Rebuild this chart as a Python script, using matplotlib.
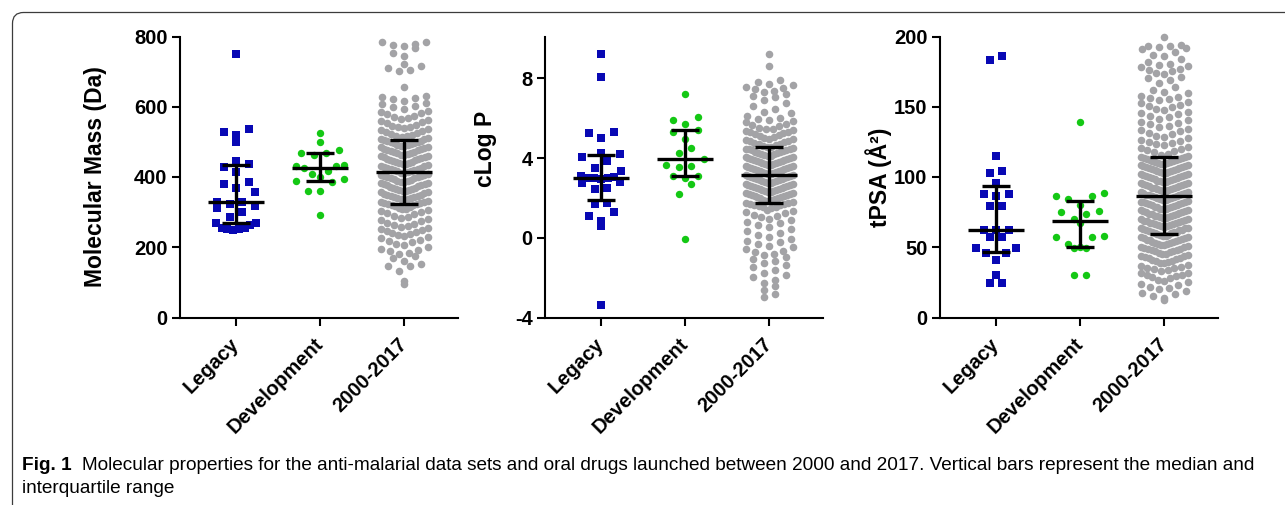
import numpy as np
import matplotlib.pyplot as plt
from matplotlib.patches import FancyBboxPatch
from matplotlib.transforms import IdentityTransform

plt.rcParams['font.family'] = ['Liberation Sans', 'DejaVu Sans']

groups = ['Legacy', 'Development', '2000-2017']

# Molecular mass (Da)
mw_legacy = [749, 537, 529, 520, 501, 446, 436, 428, 413, 385, 380, 370, 356, 330, 329,
             323, 318, 311, 299, 285, 270, 268, 262, 256, 255, 253, 252, 250]
mw_dev = [526, 501, 476, 469, 469, 462, 434, 432, 430, 425, 418, 408, 400, 394,
          390, 385, 360, 360, 293]
mw_recent = [
    785, 783, 779, 776, 772, 768, 752, 744, 722, 717, 711, 706, 701, 655, 631, 627, 624, 621,
    617, 612, 607, 603,
    598, 594, 589, 585, 581,
    578, 575, 571, 567, 564, 561,
    559, 556, 553, 549, 546, 543, 541,
    539, 536, 533, 530, 528, 525, 522, 520,
    518, 516, 514, 511, 509, 507, 505, 503, 502, 500,
    499, 497, 496, 494, 492, 490, 489, 487, 485, 484, 482, 481,
    479, 477, 476, 474, 472, 470, 469, 467, 465, 464, 462, 461,
    459, 457, 456, 454, 452, 450, 449, 447, 445, 444, 442, 441,
    439, 437, 436, 434, 432, 430, 429, 427, 425, 424, 422, 421,
    419, 417, 416, 414, 412, 410, 409, 407, 405, 404, 402, 401,
    399, 397, 396, 394, 392, 390, 389, 387, 385, 384, 382, 381,
    379, 377, 376, 374, 372, 370, 369, 367, 365, 364, 362, 361,
    359, 357, 356, 354, 352, 350, 349, 347, 345, 344, 342, 341,
    339, 337, 336, 334, 332, 330, 329, 327, 325, 324, 322, 321,
    319, 317, 315, 312, 310, 308, 305, 303, 301,
    298, 294, 290, 286, 283, 281,
    278, 274, 270, 266, 263, 261,
    259, 256, 253, 250, 247, 244, 241,
    238, 235, 231, 228, 225, 222,
    218, 214, 210, 206, 202,
    196, 192, 188, 185, 180, 175, 170, 161, 151, 147, 146, 132, 104, 94]

# cLog P
clogp_legacy = [9.22, 8.07, 5.3, 5.27, 5.02, 4.23, 4.18, 4.05, 3.85, 3.52, 3.35, 3.1, 3.05,
                3.02, 3.0, 2.98, 2.95, 2.8, 2.75, 2.5, 2.43, 1.73, 1.68, 1.27, 1.1, 0.82,
                0.6, -3.35]
clogp_dev = [7.22, 6.07, 5.93, 5.72, 5.4, 5.3, 4.97, 4.52, 4.27, 3.93, 3.63, 3.6, 3.55,
             3.12, 3.1, 3.0, 2.72, 2.22, -0.07]
clogp_recent = [
    9.2, 8.6,
    7.9, 7.8, 7.72, 7.65, 7.56, 7.5,
    7.45, 7.38, 7.3, 7.2, 7.12, 7.05,
    6.9, 6.75, 6.6,
    6.45, 6.33, 6.25, 6.12, 6.02,
    5.97, 5.92, 5.85, 5.8, 5.72, 5.66, 5.6, 5.53,
    5.48, 5.45, 5.41, 5.37, 5.33, 5.29, 5.24, 5.2, 5.16, 5.11, 5.06, 5.02,
    4.98, 4.95, 4.92, 4.88, 4.85, 4.81, 4.77, 4.73, 4.69, 4.65, 4.61, 4.57, 4.54, 4.51,
    4.48, 4.46, 4.43, 4.41, 4.38, 4.35, 4.32, 4.3, 4.27, 4.24, 4.21, 4.18, 4.15, 4.12,
    4.09, 4.06, 4.04, 4.01,
    3.98, 3.95, 3.93, 3.9, 3.88, 3.85, 3.83, 3.8, 3.78, 3.75, 3.73, 3.7, 3.68, 3.65,
    3.63, 3.6, 3.58, 3.55, 3.53, 3.5,
    3.48, 3.45, 3.43, 3.4, 3.38, 3.35, 3.33, 3.3, 3.28, 3.25, 3.23, 3.2, 3.18, 3.15,
    3.13, 3.1, 3.08, 3.05, 3.03, 3.0,
    2.98, 2.95, 2.93, 2.9, 2.88, 2.85, 2.83, 2.8, 2.78, 2.75, 2.73, 2.7, 2.68, 2.65,
    2.63, 2.6, 2.58, 2.55, 2.53, 2.5,
    2.48, 2.45, 2.43, 2.4, 2.38, 2.35, 2.33, 2.3, 2.28, 2.25, 2.23, 2.2, 2.18, 2.15,
    2.13, 2.1, 2.08, 2.05, 2.03, 2.0,
    1.98, 1.95, 1.92, 1.89, 1.86, 1.83, 1.8, 1.77, 1.74, 1.71, 1.68, 1.65, 1.62, 1.59,
    1.56, 1.52,
    1.47, 1.41, 1.35, 1.29, 1.22, 1.16, 1.09, 1.03,
    0.96, 0.88, 0.8, 0.72, 0.63, 0.55,
    0.45, 0.35, 0.25, 0.14, 0.04,
    -0.05, -0.14, -0.23, -0.32, -0.4, -0.48,
    -0.56, -0.64, -0.72, -0.8, -0.88, -0.96,
    -1.06, -1.17, -1.27, -1.37, -1.47,
    -1.6, -1.75, -1.85, -1.95,
    -2.1, -2.25, -2.4,
    -2.6, -2.8, -2.98]

# tPSA (A^2)
tpsa_legacy = [186.4, 183.6, 115, 104.5, 103, 96, 87.6, 87.6, 86.7, 79.5, 79.5, 62, 62, 62,
               57.4, 57.4, 49.5, 49.5, 46, 46, 41, 30.5, 24.5, 24.5]
tpsa_dev = [138.8, 88.8, 86.7, 86.7, 84, 80, 76, 75, 74, 70, 67, 58, 57, 57, 52, 50, 49.5,
            49.5, 30.5, 30.5]
tpsa_recent = [
    199.5, 194, 193.5, 193, 192.5, 192, 191, 189, 187, 186, 184, 182, 180.5,
    179.5, 179, 178, 177, 176.5, 175.5, 174, 173, 171.5, 170.5, 169, 167,
    164, 162, 160.5, 159.5, 158, 157, 156, 155.5,
    154.5, 153.5, 152.5, 151.5, 150.5, 149.5, 148.5, 147.5, 146.5, 145.5,
    144.5, 143.5, 142.5, 141.5, 140.5, 139.5, 138.5, 137.5, 136.5, 135.5,
    134.5, 133.5, 132.5, 131.5, 130.5, 129.5, 128.5, 127.5, 126.5, 125.5, 125,
    124.5, 123.5, 122.5, 121.5, 120.5, 120, 119.5, 118.5, 117.5, 116.5, 115.5, 115,
    114.5, 114, 113.5, 113, 112.5, 112, 111.5, 111, 110.5, 110, 113.8, 112.2, 111.2, 110.2,
    109.5, 109, 108.5, 108, 107.5, 107, 106.5, 106, 105.5, 105, 108.8, 107.2, 106.2, 105.2,
    104.5, 104, 103.5, 103, 102.5, 102, 101.5, 101, 100.5, 100, 103.8, 102.2, 101.2, 100.2,
    99.5, 99, 98.5, 98, 97.5, 97, 96.5, 96, 95.5, 95, 98.8, 97.2, 96.2, 95.2,
    94.5, 94, 93.5, 93, 92.5, 92, 91.5, 91, 90.5, 90, 93.8, 92.2, 91.2, 90.2,
    89.5, 89, 88.5, 88, 87.5, 87, 86.5, 86, 85.5, 85, 88.8, 87.2, 86.2, 85.2,
    84.5, 84, 83.5, 83, 82.5, 82, 81.5, 81, 80.5, 80, 83.8, 82.2, 81.2, 80.2,
    79.5, 79, 78.5, 78, 77.5, 77, 76.5, 76, 75.5, 75, 78.8, 77.2, 76.2, 75.2,
    74.5, 74, 73.5, 73, 72.5, 72, 71.5, 71, 70.5, 70, 73.8, 72.2, 71.2, 70.2,
    69.5, 69, 68.5, 68, 67.5, 67, 66.5, 66, 65.5, 65, 68.8, 67.2, 66.2, 65.2,
    64.5, 64, 63.5, 63, 62.5, 62, 61.5, 61, 60.5, 60, 63.8, 62.2, 61.2, 60.2,
    59.5, 59, 58.5, 58, 57.5, 57, 56.5, 56, 55.5, 55, 58.2, 56.8, 55.2,
    54.5, 54, 53.5, 53, 52.5, 52, 51.5, 51, 50.5, 50, 53.2, 51.8,
    49.5, 49, 48.5, 48, 47.5, 47, 46.5, 46, 45.5, 45, 47.8,
    44.5, 44, 43.5, 43, 42.5, 42, 41.5, 41, 40.5, 40,
    39.5, 39, 38.5, 37.5, 37, 36, 35.5, 35,
    34.5, 34, 33, 32, 31.5, 30.5, 30,
    29.5, 29, 28, 27, 26, 25,
    24, 23, 22, 21, 20.5,
    19, 17.5, 16.5, 15.5,
    14, 12.5]

blue = '#0808b4'
green = '#14c814'
grey = '#a3a3a6'

W, H = 1285, 505
fig = plt.figure(figsize=(W / 100, H / 100), dpi=100)

ax_w, ax_h = 278, 281
xlim = (-0.667, 2.64)

# marker, colour, diameter px, row height px, spacing px, half width px
styles = [('s', blue, 7.3, 14, 12.5, 20),
          ('o', green, 7.4, 14, 12.5, 24),
          ('o', grey, 7.6, 9, 11, 23.5)]


def swarm_offsets(vals, py, row_h, step, max_half):
    # GraphPad-like rows: points of one row spread sideways, lowest values in the middle
    vals = np.asarray(vals, float)
    xs = np.zeros(len(vals))
    rows = np.floor(vals * py / row_h).astype(int)
    for r in np.unique(rows):
        idx = np.where(rows == r)[0]
        idx = idx[np.argsort(vals[idx])]
        n = len(idx)
        s = step if n < 2 else min(step, 2 * max_half / (n - 1))
        pos = (np.arange(n) - (n - 1) / 2) * s
        order = np.argsort(np.abs(pos), kind='stable')
        xs[idx] = pos[order]
    return xs


def panel(left, data, ylim, yticks, ylabel, lab_x, lab_y=0.5):
    ax = fig.add_axes([left / W, (H - 317.5) / H, ax_w / W, ax_h / H])
    ax.set_xlim(*xlim)
    ax.set_ylim(*ylim)
    py = ax_h / (ylim[1] - ylim[0])
    px = ax_w / (xlim[1] - xlim[0])
    for i, (vals, (mk, col, d, row_h, step, mh)) in enumerate(zip(data, styles)):
        off = swarm_offsets(vals, py, row_h, step, mh)
        ax.scatter(i + off / px, vals, s=(d * 0.72) ** 2, marker=mk, color=col,
                   linewidths=0, zorder=2, clip_on=False)
        q1, med, q3 = np.percentile(vals, [25, 50, 75], method='weibull')
        ax.hlines(med, i - 0.33, i + 0.33, color='black', lw=2.4, zorder=3)
        ax.hlines([q1, q3], i - 0.165, i + 0.165, color='black', lw=2.4, zorder=3)
        ax.vlines(i, q1, q3, color='black', lw=2.4, zorder=3)
    for s in ['top', 'right']:
        ax.spines[s].set_visible(False)
    for s in ['left', 'bottom']:
        ax.spines[s].set_linewidth(1.5)
    ax.set_yticks(yticks)
    ax.set_yticklabels([str(t) for t in yticks], fontsize=14.5, fontweight='bold')
    ax.set_xticks([0, 1, 2])
    ax.set_xticklabels(groups, rotation=45, ha='right', va='center',
                       rotation_mode='anchor', fontsize=14.5, fontweight='bold')
    ax.tick_params(axis='both', length=6, width=1.5, pad=3)
    ax.tick_params(axis='x', pad=11)
    ax.set_ylabel(ylabel, fontsize=16.5, fontweight='bold')
    ax.yaxis.set_label_coords(lab_x, lab_y)
    return ax


panel(180, [mw_legacy, mw_dev, mw_recent], (0, 800), [0, 200, 400, 600, 800],
      'Molecular Mass (Da)', -0.263)
panel(545, [clogp_legacy, clogp_dev, clogp_recent], (-4, 10.1), [-4, 0, 4, 8],
      'cLog P', -0.173, 0.6)
panel(940, [tpsa_legacy, tpsa_dev, tpsa_recent], (0, 200), [0, 50, 100, 150, 200],
      'tPSA (Å²)', -0.173)

# frame around the figure
frame = FancyBboxPatch((12.5, -40), 1400, H - 12.5 + 40,
                       boxstyle='round,pad=0,rounding_size=11',
                       transform=IdentityTransform(), fill=False,
                       edgecolor='#3c3c3c', lw=0.9)
fig.add_artist(frame)

cap_size = 13.7
fig_lbl = fig.text(22 / W, 1 - 470 / H, 'Fig. 1', fontsize=cap_size, fontweight='bold')
fig.canvas.draw()
x_body = fig_lbl.get_window_extent().x1 + 10
fig.text(x_body / W, 1 - 470 / H,
         'Molecular properties for the anti-malarial data sets and oral drugs launched '
         'between 2000 and 2017. Vertical bars represent the median and',
         fontsize=cap_size)
fig.text(22 / W, 1 - 493 / H, 'interquartile range', fontsize=cap_size)

fig.savefig('out.png', dpi=100)
